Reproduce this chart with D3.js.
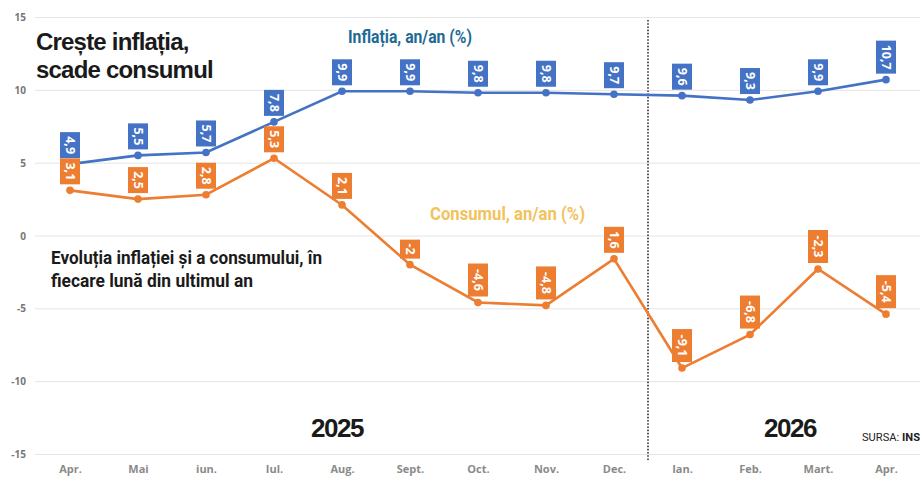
<!DOCTYPE html>
<html>
<head>
<meta charset="utf-8">
<script src="https://cdn.jsdelivr.net/npm/d3@7"></script>
<style>
  body { margin: 0; background: #fff; }
  svg { display: block; }
  .narrow { font-family: "Liberation Sans Narrow", "Roboto", sans-serif; }
</style>
</head>
<body>
<figure id="chart" style="margin:0"></figure>
<script>
// data
var months = ["Apr.", "Mai", "iun.", "Iul.", "Aug.", "Sept.", "Oct.", "Nov.", "Dec.", "Ian.", "Feb.", "Mart.", "Apr."];
var inflatia = [4.9, 5.5, 5.7, 7.8, 9.9, 9.9, 9.8, 9.8, 9.7, 9.6, 9.3, 9.9, 10.7];
var inflatiaLabels = ["4,9", "5,5", "5,7", "7,8", "9,9", "9,9", "9,8", "9,8", "9,7", "9,6", "9,3", "9,9", "10,7"];
var consumul = [3.1, 2.5, 2.8, 5.3, 2.1, -2, -4.6, -4.8, -1.6, -9.1, -6.8, -2.3, -5.4];
var consumulLabels = ["3,1", "2,5", "2,8", "5,3", "2,1", "-2", "-4,6", "-4,8", "1,6", "-9,1", "-6,8", "-2,3", "-5,4"];
var yTicks = [15, 10, 5, 0, -5, -10, -15];

let dimensions = {
    width: 920,
    height: 477
};

var blue = "#4472c4";
var orange = "#ed7d31";

var svg = d3.select("figure#chart")
    .append("svg")
    .attr("width", dimensions.width)
    .attr("height", dimensions.height)
    .attr("viewBox", `0 0 ${dimensions.width} ${dimensions.height}`);

var xScale = d3.scalePoint()
    .domain(d3.range(months.length))
    .range([70, 886]);

var yScale = d3.scaleLinear()
    .domain([-15, 15])
    .range([454, 17]);

// grid lines + y labels
var yAxis = svg.append("g")
    .attr("transform", "translate(35,0)")
    .call(d3.axisRight(yScale).tickValues(yTicks).tickSize(885).tickFormat(d => d));
yAxis.select(".domain").remove();
yAxis.selectAll(".tick line").attr("stroke", "#e4e4e4");
yAxis.selectAll(".tick text")
    .attr("x", -9)
    .attr("text-anchor", "end")
    .attr("dy", "0.35em")
    .attr("fill", "#777")
    .style("font", "bold 10px 'Open Sans', sans-serif");

// x labels
var xAxis = svg.append("g")
    .attr("transform", "translate(0,454)")
    .call(d3.axisBottom(xScale).tickSize(0).tickFormat(i => months[i]));
xAxis.select(".domain").remove();
xAxis.selectAll(".tick text")
    .attr("dy", "1.45em")
    .attr("fill", "#8a8a8a")
    .style("font", "bold 11px 'Open Sans', sans-serif");

// separator between years
var sepX = (xScale(8) + xScale(9)) / 2;
svg.append("line")
    .attr("x1", sepX).attr("x2", sepX)
    .attr("y1", 20).attr("y2", 460)
    .attr("stroke", "#333")
    .attr("stroke-width", 1.6)
    .attr("stroke-dasharray", "1.6,1.6");

// titles
var title = svg.append("text")
    .attr("x", 36).attr("y", 50)
    .attr("fill", "#1a1a1a")
    .style("font", "bold 24px 'Liberation Sans', Arial, sans-serif")
    .style("letter-spacing", "-0.8px");
title.append("tspan").text("Crește inflația,");
title.append("tspan").attr("x", 36).attr("dy", 28).text("scade consumul");

// condensed texts squeezed to the widths seen in the picture
function narrowText(x, y, size, color, txt, w) {
    return svg.append("text")
        .attr("class", "narrow")
        .attr("x", x).attr("y", y)
        .attr("fill", color)
        .attr("textLength", w)
        .attr("lengthAdjust", "spacingAndGlyphs")
        .style("font-weight", "bold")
        .style("font-size", size + "px")
        .text(txt);
}

narrowText(51, 264, 18, "#1a1a1a", "Evoluția inflației și a consumului, în", 271);
narrowText(51, 287, 18, "#1a1a1a", "fiecare lună din ultimul an", 202);
narrowText(348, 43, 18, "#1f6a94", "Inflația, an/an (%)", 124);
narrowText(430, 220, 18, "#f2c25c", "Consumul, an/an (%)", 155);

svg.selectAll(".year")
    .data([["2025", 337], ["2026", 790]])
    .enter()
    .append("text")
    .attr("x", d => d[1]).attr("y", 437)
    .attr("text-anchor", "middle")
    .attr("fill", "#1a1a1a")
    .style("font", "bold 26px 'Liberation Sans', Arial, sans-serif")
    .style("letter-spacing", "-1.4px")
    .text(d => d[0]);

var src = svg.append("text")
    .attr("class", "narrow")
    .attr("x", 862).attr("y", 441)
    .attr("fill", "#222")
    .attr("textLength", 58)
    .attr("lengthAdjust", "spacingAndGlyphs")
    .style("font-size", "11px");
src.append("tspan").text("SURSA: ");
src.append("tspan").style("font-weight", "bold").text("INS");

// lines
var line = d3.line()
    .x((d, i) => xScale(i))
    .y(d => yScale(d));

function drawSeries(values, color) {
    svg.append("path")
        .datum(values)
        .attr("d", line)
        .attr("fill", "none")
        .attr("stroke", color)
        .attr("stroke-width", 2.6);

    svg.append("g").selectAll("circle")
        .data(values)
        .enter()
        .append("circle")
        .attr("cx", (d, i) => xScale(i))
        .attr("cy", d => yScale(d))
        .attr("r", 3.8)
        .attr("fill", color);
}

function drawTags(values, labels, color) {
    var tags = svg.append("g").selectAll("g")
        .data(values)
        .enter()
        .append("g")
        .attr("transform", (d, i) => `translate(${xScale(i)},${yScale(d) - 6})`);

    tags.each(function(d, i) {
        var g = d3.select(this);
        var t = labels[i];
        var h = t.length * 7 + 5;
        g.append("rect")
            .attr("x", -10).attr("y", -h)
            .attr("width", 20).attr("height", h)
            .attr("fill", color);
        g.append("text")
            .attr("transform", `translate(0,${-h / 2}) rotate(90)`)
            .attr("text-anchor", "middle")
            .attr("dy", "0.36em")
            .attr("fill", "#fff")
            .style("font", "bold 12.5px 'Open Sans', sans-serif")
            .text(t);
    });
}

drawSeries(consumul, orange);
drawSeries(inflatia, blue);
drawTags(inflatia, inflatiaLabels, blue);
drawTags(consumul, consumulLabels, orange);
</script>
</body>
</html>
